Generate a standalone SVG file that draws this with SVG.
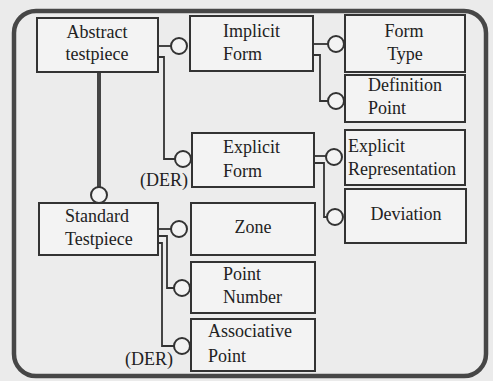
<svg xmlns="http://www.w3.org/2000/svg" width="493" height="381" viewBox="0 0 493 381">
<style>
.bg{fill:#ebebeb}
.frame{fill:#ececec;stroke:#474747;stroke-width:4.5}
.box{fill:#f3f3f3;stroke:#333;stroke-width:2}
.ln{fill:none;stroke:#333;stroke-width:1.8}
.thick{fill:none;stroke:#444;stroke-width:4}
.c{fill:#f3f3f3;stroke:#333;stroke-width:2}
text{font-family:'Liberation Serif','Times New Roman','DejaVu Serif',serif;font-size:18px;fill:#222}
.m{text-anchor:middle}
</style>
<rect class="bg" x="0" y="0" width="493" height="381"/>
<rect class="frame" x="14" y="11" width="472" height="365" rx="22" ry="22"/>
<g id="connectors">
<line class="thick" x1="99" y1="72" x2="99" y2="187"/>
<circle class="c" cx="99" cy="195" r="8"/>
<polyline class="ln" points="158,46 171,46"/>
<circle class="c" cx="179" cy="46" r="8"/>
<polyline class="ln" points="158,57 164,57 164,159 175,159"/>
<circle class="c" cx="183" cy="159" r="8"/>
<polyline class="ln" points="313,44 328,44"/>
<circle class="c" cx="336" cy="44" r="8"/>
<polyline class="ln" points="313,55 320,55 320,101 328,101"/>
<circle class="c" cx="336" cy="101" r="8"/>
<polyline class="ln" points="314,156 326,156"/>
<circle class="c" cx="334" cy="157" r="8"/>
<polyline class="ln" points="314,163 324,163 324,217 327,217"/>
<circle class="c" cx="335" cy="217" r="8"/>
<polyline class="ln" points="158,229 171,229"/>
<circle class="c" cx="179" cy="229" r="8"/>
<polyline class="ln" points="158,236 167,236 167,288 174,288"/>
<circle class="c" cx="182" cy="288" r="8"/>
<polyline class="ln" points="158,243 162,243 162,346 174,346"/>
<circle class="c" cx="182" cy="346" r="8"/>
</g>
<g font-family="Liberation Serif, Times New Roman, DejaVu Serif, serif">
<g id="abstract-testpiece"><rect class="box" x="37" y="18" width="121" height="54"/><text class="m" x="97" y="38">Abstract</text><text class="m" x="97" y="60">testpiece</text></g>
<g id="implicit-form"><rect class="box" x="190" y="16" width="123" height="55"/><text x="223" y="37">Implicit</text><text x="223" y="60">Form</text></g>
<g id="form-type"><rect class="box" x="345" y="15" width="120" height="57"/><text class="m" x="404" y="37">Form</text><text class="m" x="405" y="60">Type</text></g>
<g id="definition-point"><rect class="box" x="345" y="75" width="120" height="47"/><text x="368" y="91">Definition</text><text x="368" y="114">Point</text></g>
<g id="explicit-form"><rect class="box" x="192" y="133" width="122" height="54"/><text x="223" y="153">Explicit</text><text x="223" y="177">Form</text><text x="140" y="186">(DER)</text></g>
<g id="explicit-representation"><rect class="box" x="345" y="130" width="120" height="55"/><text x="348" y="152">Explicit</text><text x="348" y="175">Representation</text></g>
<g id="deviation"><rect class="box" x="345" y="189" width="121" height="54"/><text class="m" x="406" y="220">Deviation</text></g>
<g id="standard-testpiece"><rect class="box" x="39" y="203" width="119" height="52"/><text x="65" y="222">Standard</text><text x="65" y="245">Testpiece</text></g>
<g id="zone"><rect class="box" x="191" y="203" width="124" height="52"/><text class="m" x="253" y="233">Zone</text></g>
<g id="point-number"><rect class="box" x="191" y="262" width="124" height="51"/><text x="223" y="280">Point</text><text x="223" y="303">Number</text></g>
<g id="associative-point"><rect class="box" x="191" y="319" width="124" height="52"/><text x="208" y="337">Associative</text><text x="208" y="362">Point</text><text x="125" y="365">(DER)</text></g>
</g>
</svg>
